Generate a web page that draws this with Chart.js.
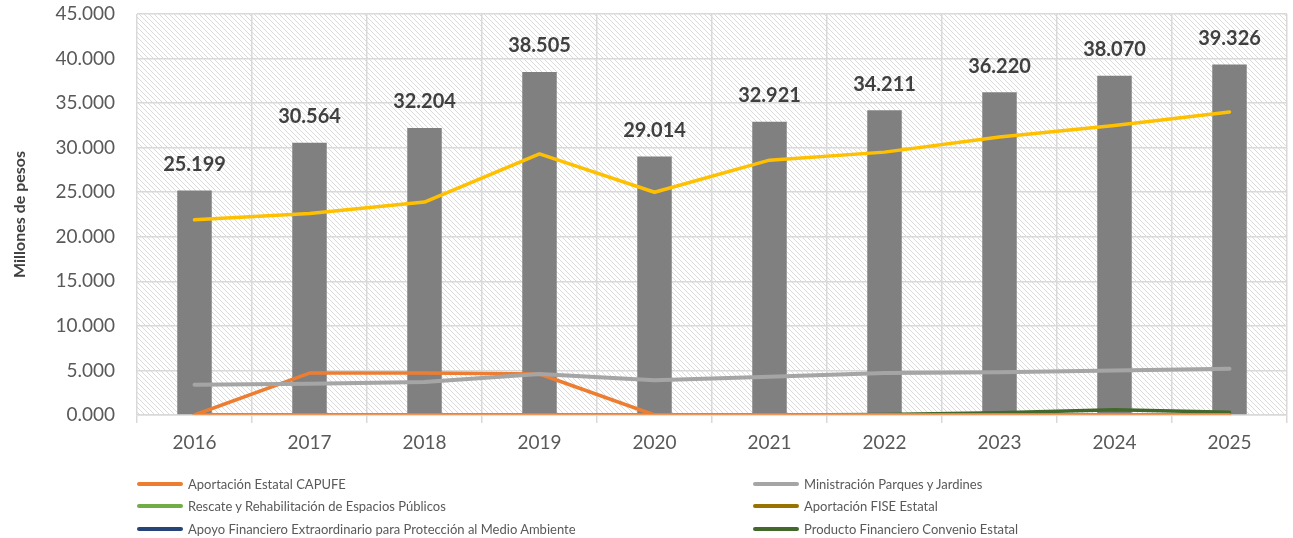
<!DOCTYPE html>
<html>
<head>
<meta charset="utf-8">
<script src="https://cdn.jsdelivr.net/npm/chart.js@4.4.0/dist/chart.umd.min.js"></script>
<style>
  body { margin: 0; background: #fff; }
  #wrap { position: relative; width: 1293px; height: 538px; }
  .legend-item { position: absolute; font: 13px Lato, sans-serif; color: #595959; display: flex; align-items: center; white-space: nowrap; }
  .legend-line { display: inline-block; width: 46px; height: 4px; border-radius: 2px; margin-right: 5px; }
</style>
</head>
<body>
<div id="wrap">
  <canvas id="chart" width="1293" height="538"></canvas>
</div>
<script>
const years = ['2016', '2017', '2018', '2019', '2020', '2021', '2022', '2023', '2024', '2025'];
const totals = [25.199, 30.564, 32.204, 38.505, 29.014, 32.921, 34.211, 36.220, 38.070, 39.326];
const mainLine = [21.9, 22.6, 23.9, 29.3, 25.0, 28.6, 29.5, 31.2, 32.5, 34.0];
const capufe = [0, 4.7, 4.7, 4.6, 0, 0, 0, 0, 0, 0];
const parques = [3.4, 3.5, 3.7, 4.6, 3.9, 4.3, 4.7, 4.8, 5.0, 5.2];
const rescate = [0, 0, 0, 0, 0, 0, 0, 0, 0, 0];
const fise = [0, 0, 0, 0, 0, 0, 0, 0, 0, 0];
const apoyo = [0, 0, 0, 0, 0, 0, 0, 0, 0, 0];
const otros = [0, 0, 0, 0, 0, 0, 0, 0, 0, 0];
const producto = [0, 0, 0, 0, 0, 0, 0.05, 0.25, 0.6, 0.3];

const legendItems = [
  { label: 'Aportación Estatal CAPUFE', color: '#ED7D31', x: 137, y: 485 },
  { label: 'Rescate y Rehabilitación de Espacios Públicos', color: '#70AD47', x: 137, y: 507 },
  { label: 'Apoyo Financiero Extraordinario para Protección al Medio Ambiente', color: '#264478', x: 137, y: 530 },
  { label: 'Ministración Parques y Jardines', color: '#A5A5A5', x: 753, y: 485 },
  { label: 'Aportación FISE Estatal', color: '#997300', x: 753, y: 507 },
  { label: 'Producto Financiero Convenio Estatal', color: '#43682B', x: 753, y: 530 }
];

// hatch pattern for plot area
const tile = document.createElement('canvas');
tile.width = 5; tile.height = 5;
const tctx = tile.getContext('2d');
tctx.fillStyle = '#ffffff';
tctx.fillRect(0, 0, 5, 5);
tctx.strokeStyle = '#dadada';
tctx.lineWidth = 1;
tctx.beginPath();
tctx.moveTo(-1, -1); tctx.lineTo(6, 6);
tctx.moveTo(-1, 4); tctx.lineTo(1, 6);
tctx.moveTo(4, -1); tctx.lineTo(6, 1);
tctx.stroke();

const hatchPlugin = {
  id: 'hatch',
  beforeDraw(chart) {
    const { ctx, chartArea: a } = chart;
    ctx.save();
    ctx.fillStyle = ctx.createPattern(tile, 'repeat');
    ctx.fillRect(a.left, a.top, a.right - a.left, a.bottom - a.top);
    ctx.restore();
  }
};

const barLabels = {
  id: 'barLabels',
  afterDatasetsDraw(chart) {
    const ctx = chart.ctx;
    const meta = chart.getDatasetMeta(0);
    ctx.save();
    ctx.font = 'bold 20px Lato, sans-serif';
    ctx.fillStyle = '#404040';
    ctx.textAlign = 'center';
    ctx.textBaseline = 'middle';
    meta.data.forEach((el, i) => {
      ctx.fillText(totals[i].toFixed(3), el.x, el.y - 26);
    });
    ctx.restore();
  }
};

function lineSet(data, color, width, order) {
  return {
    type: 'line', data: data, borderColor: color, backgroundColor: color,
    borderWidth: width, pointRadius: 0, tension: 0, order: order,
    borderCapStyle: 'round', borderJoinStyle: 'round'
  };
}

new Chart(document.getElementById('chart'), {
  type: 'bar',
  data: {
    labels: years,
    datasets: [
      { type: 'bar', data: totals, backgroundColor: '#808080', barPercentage: 0.3, categoryPercentage: 1, order: 20 },
      lineSet(capufe, '#ED7D31', 3.5, 9),
      lineSet(parques, '#A5A5A5', 4, 8),
      lineSet(rescate, '#70AD47', 3, 7),
      lineSet(fise, '#997300', 3, 6),
      lineSet(apoyo, '#264478', 3, 5),
      lineSet(producto, '#43682B', 3.5, 4),
      lineSet(otros, '#F1975A', 3.5, 3),
      lineSet(mainLine, '#FFC000', 3.5, 1)
    ]
  },
  options: {
    responsive: false,
    animation: false,
    layout: { padding: { top: 14, right: 6, bottom: 83, left: 10 } },
    plugins: { legend: { display: false }, tooltip: { enabled: false } },
    scales: {
      x: {
        grid: { color: '#d9d9d9', lineWidth: 1.5, offset: true, tickLength: 8, drawTicks: true },
        border: { color: '#d9d9d9', width: 1.5 },
        ticks: { color: '#595959', font: { family: 'Lato', size: 19 }, padding: 8 },
        afterFit(scale) { scale.height = 40; }
      },
      y: {
        min: 0, max: 45,
        ticks: {
          stepSize: 5, color: '#595959', font: { family: 'Lato', size: 19 }, padding: 22,
          callback: v => v.toFixed(3)
        },
        grid: { color: '#d9d9d9', lineWidth: 1.5, drawTicks: false },
        border: { display: false },
        title: { display: true, text: 'Millones de pesos', color: '#404040', font: { family: 'Lato', size: 16, weight: 'bold' }, padding: 0 },
        afterFit(scale) {
          scale.width = 127;
          scale.paddingTop = 0;
          scale.paddingBottom = 0;
        }
      }
    }
  },
  plugins: [hatchPlugin, barLabels]
});

const wrap = document.getElementById('wrap');
legendItems.forEach(item => {
  const div = document.createElement('div');
  div.className = 'legend-item';
  div.style.left = item.x + 'px';
  div.style.top = (item.y - 9) + 'px';
  div.innerHTML = `<span class="legend-line" style="background:${item.color}"></span>${item.label}`;
  wrap.appendChild(div);
});
</script>
</body>
</html>
